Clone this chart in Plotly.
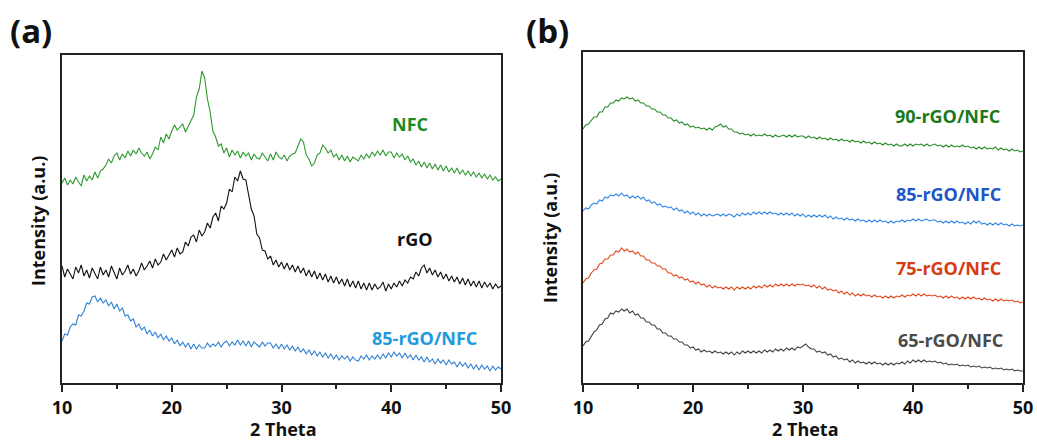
import plotly.graph_objects as go

# 2-theta sampling grid (degrees), step 0.25
two_theta = [round(10 + 0.25 * i, 2) for i in range(161)]

# ---------------- Panel (a) intensities (a.u.) ----------------
nfc = [
    200, 205, 198, 203, 199, 206, 201, 197, 208, 202, 207, 203,
    211, 205, 212, 214, 218, 224, 220, 227, 230, 223, 229, 225,
    232, 227, 233, 229, 235, 230, 227, 231, 224, 229, 236, 233,
    246, 240, 249, 244, 252, 258, 253, 256, 259, 251, 257, 262,
    268, 286, 294, 312, 305, 284, 271, 252, 246, 237, 239, 230,
    235, 226, 233, 228, 232, 225, 231, 227, 230, 223, 229, 225,
    224, 230, 226, 222, 229, 223, 231, 226, 224, 228, 222, 227,
    229, 230, 237, 244, 241, 228, 224, 217, 220, 228, 230, 238,
    235, 230, 233, 226, 229, 223, 228, 222, 227, 221, 226, 224,
    222, 228, 224, 229, 225, 231, 227, 232, 228, 233, 227, 231,
    231, 225, 230, 226, 229, 223, 227, 221, 224, 218, 222, 216,
    221, 215, 220, 214, 219, 213, 218, 212, 217, 211, 215, 210,
    215, 209, 213, 208, 212, 207, 211, 206, 210, 205, 209, 204,
    208, 203, 206, 202, 204,
]
rgo = [
    117, 106, 114, 109, 104, 116, 110, 118, 107, 113, 105, 115,
    109, 104, 116, 108, 113, 106, 117, 110, 104, 115, 108, 112,
    118, 109, 114, 107, 112, 120, 113, 117, 122, 115, 124, 118,
    121, 129, 123, 128, 133, 126, 135, 129, 131, 141, 137, 146,
    148, 141, 153, 147, 151, 160, 155, 166, 170, 162, 177, 174,
    180, 194, 191, 206, 202, 212, 204, 203, 190, 174, 167, 149,
    145, 133, 132, 124, 127, 118, 123, 116, 121, 114, 120, 113,
    118, 111, 117, 110, 115, 107, 113, 106, 112, 104, 110, 103,
    109, 101, 107, 100, 106, 99, 104, 97, 104, 96, 102, 95,
    102, 94, 100, 93, 100, 93, 99, 94, 96, 101, 92, 99,
    94, 100, 96, 102, 97, 103, 100, 106, 104, 111, 107, 115,
    118, 110, 115, 108, 113, 106, 111, 104, 109, 102, 107, 101,
    106, 99, 105, 98, 104, 97, 102, 96, 102, 95, 101, 96,
    100, 94, 99, 95, 97,
]
comp85_a = [
    42, 49, 48, 56, 59, 58, 68, 67, 72, 80, 79, 86,
    87, 81, 85, 80, 83, 77, 81, 74, 79, 72, 75, 67,
    68, 62, 64, 56, 59, 53, 56, 49, 53, 47, 51, 45,
    49, 43, 47, 42, 45, 39, 43, 37, 41, 36, 40, 34,
    39, 34, 38, 35, 35, 40, 36, 39, 37, 41, 36, 40,
    42, 37, 41, 38, 43, 38, 42, 37, 42, 36, 41, 38,
    36, 41, 37, 40, 40, 35, 39, 34, 39, 34, 38, 33,
    37, 32, 36, 31, 34, 29, 33, 28, 32, 27, 31, 26,
    30, 25, 29, 24, 28, 23, 27, 24, 27, 22, 26, 23,
    22, 27, 24, 28, 23, 27, 24, 28, 24, 29, 25, 30,
    26, 31, 27, 30, 25, 30, 25, 28, 23, 28, 23, 26,
    21, 26, 21, 24, 19, 24, 20, 23, 18, 23, 19, 21,
    16, 21, 17, 20, 15, 19, 14, 18, 13, 18, 14, 17,
    12, 17, 13, 16, 14,
]

# ---------------- Panel (b) intensities (a.u.) ----------------
comp90 = [
    254, 258, 259, 263, 266, 266, 271, 271, 276, 276, 280, 280,
    283, 282, 285, 284, 286, 284, 285, 282, 283, 280, 280, 277,
    277, 274, 274, 271, 271, 268, 268, 265, 265, 262, 263, 260,
    261, 258, 259, 256, 257, 255, 256, 254, 255, 253, 255, 253,
    256, 257, 259, 256, 257, 254, 254, 251, 251, 249, 250, 248,
    249, 247, 249, 247, 248, 247, 249, 247, 248, 246, 248, 246,
    247, 248, 246, 248, 246, 248, 246, 247, 247, 245, 247, 245,
    246, 244, 246, 244, 245, 243, 245, 243, 244, 242, 244, 242,
    243, 241, 243, 241, 242, 240, 242, 240, 241, 239, 241, 239,
    240, 238, 240, 238, 239, 237, 239, 237, 237, 239, 237, 239,
    237, 239, 238, 239, 237, 239, 237, 238, 239, 237, 238, 236,
    238, 236, 238, 236, 237, 236, 238, 236, 237, 235, 236, 234,
    236, 234, 236, 234, 235, 234, 236, 233, 235, 233, 234, 232,
    234, 232, 233, 231, 232,
]
comp85_b = [
    172, 175, 174, 178, 180, 179, 183, 182, 186, 185, 188, 187,
    189, 187, 190, 187, 188, 185, 187, 185, 187, 184, 186, 182,
    183, 180, 181, 178, 179, 176, 177, 175, 176, 173, 175, 172,
    173, 170, 172, 169, 171, 168, 170, 167, 169, 167, 169, 167,
    168, 169, 167, 169, 167, 169, 168, 166, 169, 167, 170, 168,
    170, 168, 171, 169, 171, 169, 171, 169, 171, 169, 170, 168,
    170, 168, 170, 168, 170, 167, 169, 167, 169, 166, 168, 166,
    168, 166, 168, 166, 168, 165, 167, 164, 166, 164, 165, 163,
    165, 163, 164, 162, 164, 162, 163, 161, 163, 161, 163, 161,
    163, 161, 162, 160, 162, 160, 162, 161, 163, 161, 163, 162,
    164, 162, 164, 162, 163, 164, 162, 163, 163, 161, 162, 160,
    162, 160, 162, 160, 162, 160, 161, 159, 161, 159, 162, 160,
    162, 159, 160, 158, 160, 158, 160, 158, 160, 158, 159, 157,
    159, 157, 158, 157, 158,
]
comp75 = [
    100, 104, 105, 110, 113, 114, 119, 120, 124, 124, 128, 128,
    132, 131, 135, 132, 134, 131, 132, 129, 131, 127, 127, 123,
    123, 120, 120, 117, 117, 114, 114, 110, 110, 107, 108, 105,
    106, 103, 104, 101, 102, 99, 101, 98, 99, 96, 98, 95,
    97, 95, 96, 94, 96, 94, 96, 93, 96, 94, 96, 94,
    96, 94, 97, 95, 97, 95, 98, 96, 98, 96, 99, 97,
    99, 97, 99, 97, 99, 97, 99, 98, 99, 97, 98, 96,
    98, 95, 97, 94, 96, 93, 94, 92, 93, 90, 92, 89,
    91, 88, 90, 87, 89, 87, 89, 87, 88, 86, 88, 86,
    87, 85, 87, 85, 87, 85, 87, 86, 88, 86, 88, 87,
    89, 87, 89, 87, 89, 87, 88, 87, 88, 86, 87, 85,
    87, 85, 87, 85, 86, 84, 86, 84, 86, 84, 86, 84,
    85, 83, 85, 83, 84, 82, 84, 82, 84, 82, 83, 82,
    83, 81, 82, 80, 81,
]
comp65 = [
    37, 41, 42, 47, 51, 53, 58, 59, 64, 65, 70, 69,
    72, 71, 74, 72, 74, 70, 72, 68, 69, 65, 65, 61,
    61, 58, 58, 54, 54, 50, 50, 47, 47, 44, 44, 41,
    41, 38, 38, 35, 36, 33, 34, 31, 33, 31, 32, 30,
    32, 30, 31, 29, 31, 29, 31, 28, 31, 29, 32, 30,
    32, 30, 32, 30, 32, 30, 33, 31, 33, 31, 34, 32,
    34, 32, 35, 33, 35, 33, 36, 35, 37, 39, 36, 34,
    34, 31, 32, 30, 31, 28, 29, 26, 27, 24, 25, 23,
    24, 21, 23, 20, 22, 20, 21, 19, 21, 19, 21, 19,
    20, 18, 20, 18, 20, 18, 20, 19, 21, 19, 22, 20,
    23, 21, 23, 21, 23, 21, 22, 21, 22, 20, 21, 19,
    20, 18, 19, 18, 19, 17, 18, 17, 18, 16, 17, 16,
    17, 15, 16, 15, 16, 14, 15, 14, 15, 13, 14, 13,
    14, 12, 13, 12, 12,
]

x_ticks = [10, 20, 30, 40, 50]

FONT = "Open Sans"
W, H = 1037, 444

series_a = [
    ("NFC", nfc, "#2f9a2f", "#1c8a1c", 41.7, 259),
    ("rGO", rgo, "#111111", "#111111", 42.2, 144),
    ("85-rGO/NFC", comp85_a, "#2f80d6", "#1f9ae0", 43.0, 45),
]
series_b = [
    ("90-rGO/NFC", comp90, "#238a23", "#1a7a1a", 43.1, 267),
    ("85-rGO/NFC", comp85_b, "#2f86e6", "#2055c8", 43.2, 189),
    ("75-rGO/NFC", comp75, "#e2461c", "#d83c12", 43.2, 115),
    ("65-rGO/NFC", comp65, "#404040", "#4a4a4a", 43.4, 43),
]

fig = go.Figure()
annotations = []
label_font = lambda c: dict(family=FONT, size=18, color=c, weight="bold")
for name, ys, lc, tc, ax_, ay_ in series_a:
    fig.add_trace(go.Scatter(x=two_theta, y=ys, mode="lines", name=name,
                             line=dict(color=lc, width=1.1), xaxis="x", yaxis="y",
                             showlegend=False))
    annotations.append(dict(x=ax_, y=ay_, xref="x", yref="y", text=name,
                            xanchor="center", yanchor="middle", showarrow=False,
                            font=label_font(tc)))
for name, ys, lc, tc, ax_, ay_ in series_b:
    fig.add_trace(go.Scatter(x=two_theta, y=ys, mode="lines", name=name,
                             line=dict(color=lc, width=1.1), xaxis="x2", yaxis="y2",
                             showlegend=False))
    annotations.append(dict(x=ax_, y=ay_, xref="x2", yref="y2", text=name,
                            xanchor="center", yanchor="middle", showarrow=False,
                            font=label_font(tc)))

def px_x(p):
    return p / W

def px_y(p):
    return 1 - p / H

def paper_text(x, y, text, size, angle=0):
    return dict(x=px_x(x), y=px_y(y), xref="paper", yref="paper", text=text,
                xanchor="center", yanchor="middle", textangle=angle, showarrow=False,
                font=dict(family=FONT, size=size, color="#111111", weight="bold"))

annotations += [
    paper_text(283, 429, "2 Theta", 18),
    paper_text(805, 429, "2 Theta", 18),
    paper_text(38, 221, "Intensity (a.u.)", 18, -90),
    paper_text(550, 238, "Intensity (a.u.)", 18, -90),
    paper_text(31, 31, "(a)", 33),
    paper_text(547, 31, "(b)", 33),
]

xcommon = dict(range=[10, 50], tickvals=x_ticks, ticks="outside", ticklen=7, tickwidth=1.5,
               tickcolor="#222222", showline=True, linecolor="#222222", linewidth=2,
               mirror=True, showgrid=False, zeroline=False,
               tickfont=dict(family=FONT, size=18, color="#111111", weight="bold"),
               minor=dict(dtick=5, tick0=10, ticks="outside", ticklen=4, tickwidth=1.5,
                          tickcolor="#222222", showgrid=False))
ycommon = dict(showticklabels=False, ticks="", showline=True, linecolor="#222222",
               linewidth=2, mirror=True, showgrid=False, zeroline=False)

fig.update_layout(
    width=W, height=H,
    margin=dict(l=0, r=0, t=0, b=0, autoexpand=False),
    paper_bgcolor="white", plot_bgcolor="white",
    xaxis=dict(domain=[px_x(62), px_x(501)], anchor="y", **xcommon),
    yaxis=dict(domain=[px_y(383), px_y(55)], anchor="x", range=[0, 328], **ycommon),
    xaxis2=dict(domain=[px_x(583), px_x(1023)], anchor="y2", **xcommon),
    yaxis2=dict(domain=[px_y(383), px_y(52)], anchor="x2", range=[0, 331], **ycommon),
    annotations=annotations,
)

fig.write_html("out.html", config={"displayModeBar": False},
               post_script="document.body.style.margin='0';document.body.style.overflow='hidden';")
